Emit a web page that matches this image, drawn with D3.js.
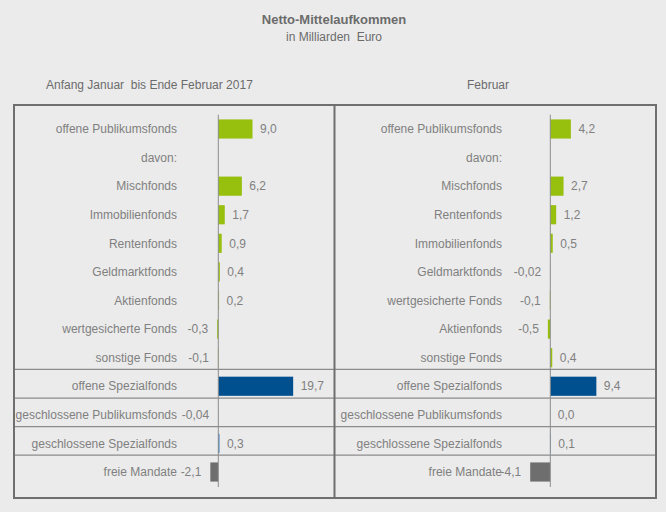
<!DOCTYPE html>
<html><head><meta charset="utf-8">
<script src="https://cdn.jsdelivr.net/npm/d3@7"></script>
<style>
html,body{margin:0;padding:0;background:#ebebeb;}
svg{display:block;font-family:"Liberation Sans",Arial,sans-serif;}
</style></head>
<body><svg id="c" width="666" height="512"></svg>
<script>
const leftCategories = ["offene Publikumsfonds","davon:","Mischfonds","Immobilienfonds","Rentenfonds","Geldmarktfonds","Aktienfonds","wertgesicherte Fonds","sonstige Fonds","offene Spezialfonds","geschlossene Publikumsfonds","geschlossene Spezialfonds","freie Mandate"];
const leftValues = [9.0, null, 6.2, 1.7, 0.9, 0.4, 0.2, -0.3, -0.1, 19.7, -0.04, 0.3, -2.1];
const rightCategories = ["offene Publikumsfonds","davon:","Mischfonds","Rentenfonds","Immobilienfonds","Geldmarktfonds","wertgesicherte Fonds","Aktienfonds","sonstige Fonds","offene Spezialfonds","geschlossene Publikumsfonds","geschlossene Spezialfonds","freie Mandate"];
const rightValues = [4.2, null, 2.7, 1.2, 0.5, -0.02, -0.1, -0.5, 0.4, 9.4, 0.0, 0.1, -4.1];
const groups = ["pub","pub","pub","pub","pub","pub","pub","pub","pub","spez","gpub","gspez","frei"];
const separatorBefore = ["offene Spezialfonds","geschlossene Publikumsfonds","geschlossene Spezialfonds","freie Mandate"];
const title = "Netto-Mittelaufkommen";
const subtitle = "in Milliarden  Euro";
const panelTitles = ["Anfang Januar  bis Ende Februar 2017", "Februar"];

const colors = {pub:"#97bf0d", spez:"#00508f", gspez:"#1f6fbf", gpub:"#8c8c8c", frei:"#6e6e6e"};
const textCol = "#808080";
const svg = d3.select("#c");

svg.append("text").attr("x",334).attr("y",24).attr("text-anchor","middle")
  .attr("font-size",13).attr("font-weight","bold").attr("fill","#6b6b6b").text(title);
svg.append("text").attr("x",334).attr("y",41).attr("text-anchor","middle")
  .attr("font-size",12).attr("fill","#6b6b6b").style("white-space","pre").text(subtitle);
svg.append("text").attr("x",46).attr("y",89).attr("font-size",12).attr("fill","#6b6b6b")
  .style("white-space","pre").text(panelTitles[0]);
svg.append("text").attr("x",467).attr("y",89).attr("font-size",12).attr("fill","#6b6b6b")
  .style("white-space","pre").text(panelTitles[1]);

const fmt = v => (v !== 0 && Math.abs(v) < 0.05 ? v.toFixed(2) : v.toFixed(1)).replace(".", ",");

function panel(cats, vals, x0, pxPerUnit, labelX, isRight) {
  const y = d3.scaleBand().domain(cats).range([114.7, 486.3]).paddingInner(0.33).paddingOuter(0.165);
  const x = d3.scaleLinear().domain([0, 10]).range([x0, x0 + pxPerUnit * 10]);
  const g = svg.append("g");
  const data = cats.map((c, i) => ({c, v: vals[i], g: groups[i]}));
  // separators
  const step = y.step();
  g.selectAll("line.sep").data(separatorBefore).join("line")
    .attr("x1", isRight ? 335 : 14).attr("x2", isRight ? 656 : 335)
    .attr("y1", d => y(d) - y.paddingOuter()*0 - step*0.165 - 2.5)
    .attr("y2", d => y(d) - step*0.165 - 2.5)
    .attr("stroke", "#8c8c8c").attr("stroke-width", 1.2);
  // bars
  g.selectAll("rect").data(data.filter(d => d.v !== null)).join("rect")
    .attr("x", d => x(Math.min(0, d.v)))
    .attr("width", d => Math.abs(x(d.v) - x(0)))
    .attr("y", d => y(d.c)).attr("height", y.bandwidth())
    .attr("fill", d => colors[d.g]);
  // zero line
  g.append("line").attr("x1", x(0)).attr("x2", x(0)).attr("y1", 114.7).attr("y2", 487)
    .attr("stroke", "#8c8c8c").attr("stroke-width", 1);
  // category labels
  g.selectAll("text.cat").data(data).join("text").attr("class","cat")
    .attr("x", labelX).attr("y", d => y(d.c) + y.bandwidth()/2).attr("dy","0.35em")
    .attr("text-anchor","end").attr("font-size",12).attr("fill",textCol).text(d => d.c);
  // value labels
  g.selectAll("text.val").data(data.filter(d => d.v !== null)).join("text").attr("class","val")
    .attr("x", d => d.v < 0 ? x(d.v) - 9 : x(d.v) + 7.5)
    .attr("y", d => y(d.c) + y.bandwidth()/2).attr("dy","0.35em")
    .attr("text-anchor", d => d.v < 0 ? "end" : "start")
    .attr("font-size",12).attr("fill",textCol).text(d => fmt(d.v));
}
panel(leftCategories, leftValues, 218.3, 3.8, 177, false);
panel(rightCategories, rightValues, 550.3, 4.9, 502, true);

// frame
svg.append("rect").attr("x",14).attr("y",105).attr("width",642).attr("height",393)
  .attr("fill","none").attr("stroke","#6f6f6f").attr("stroke-width",2);
svg.append("line").attr("x1",334.5).attr("x2",334.5).attr("y1",105).attr("y2",498)
  .attr("stroke","#6f6f6f").attr("stroke-width",2);
</script></body></html>
